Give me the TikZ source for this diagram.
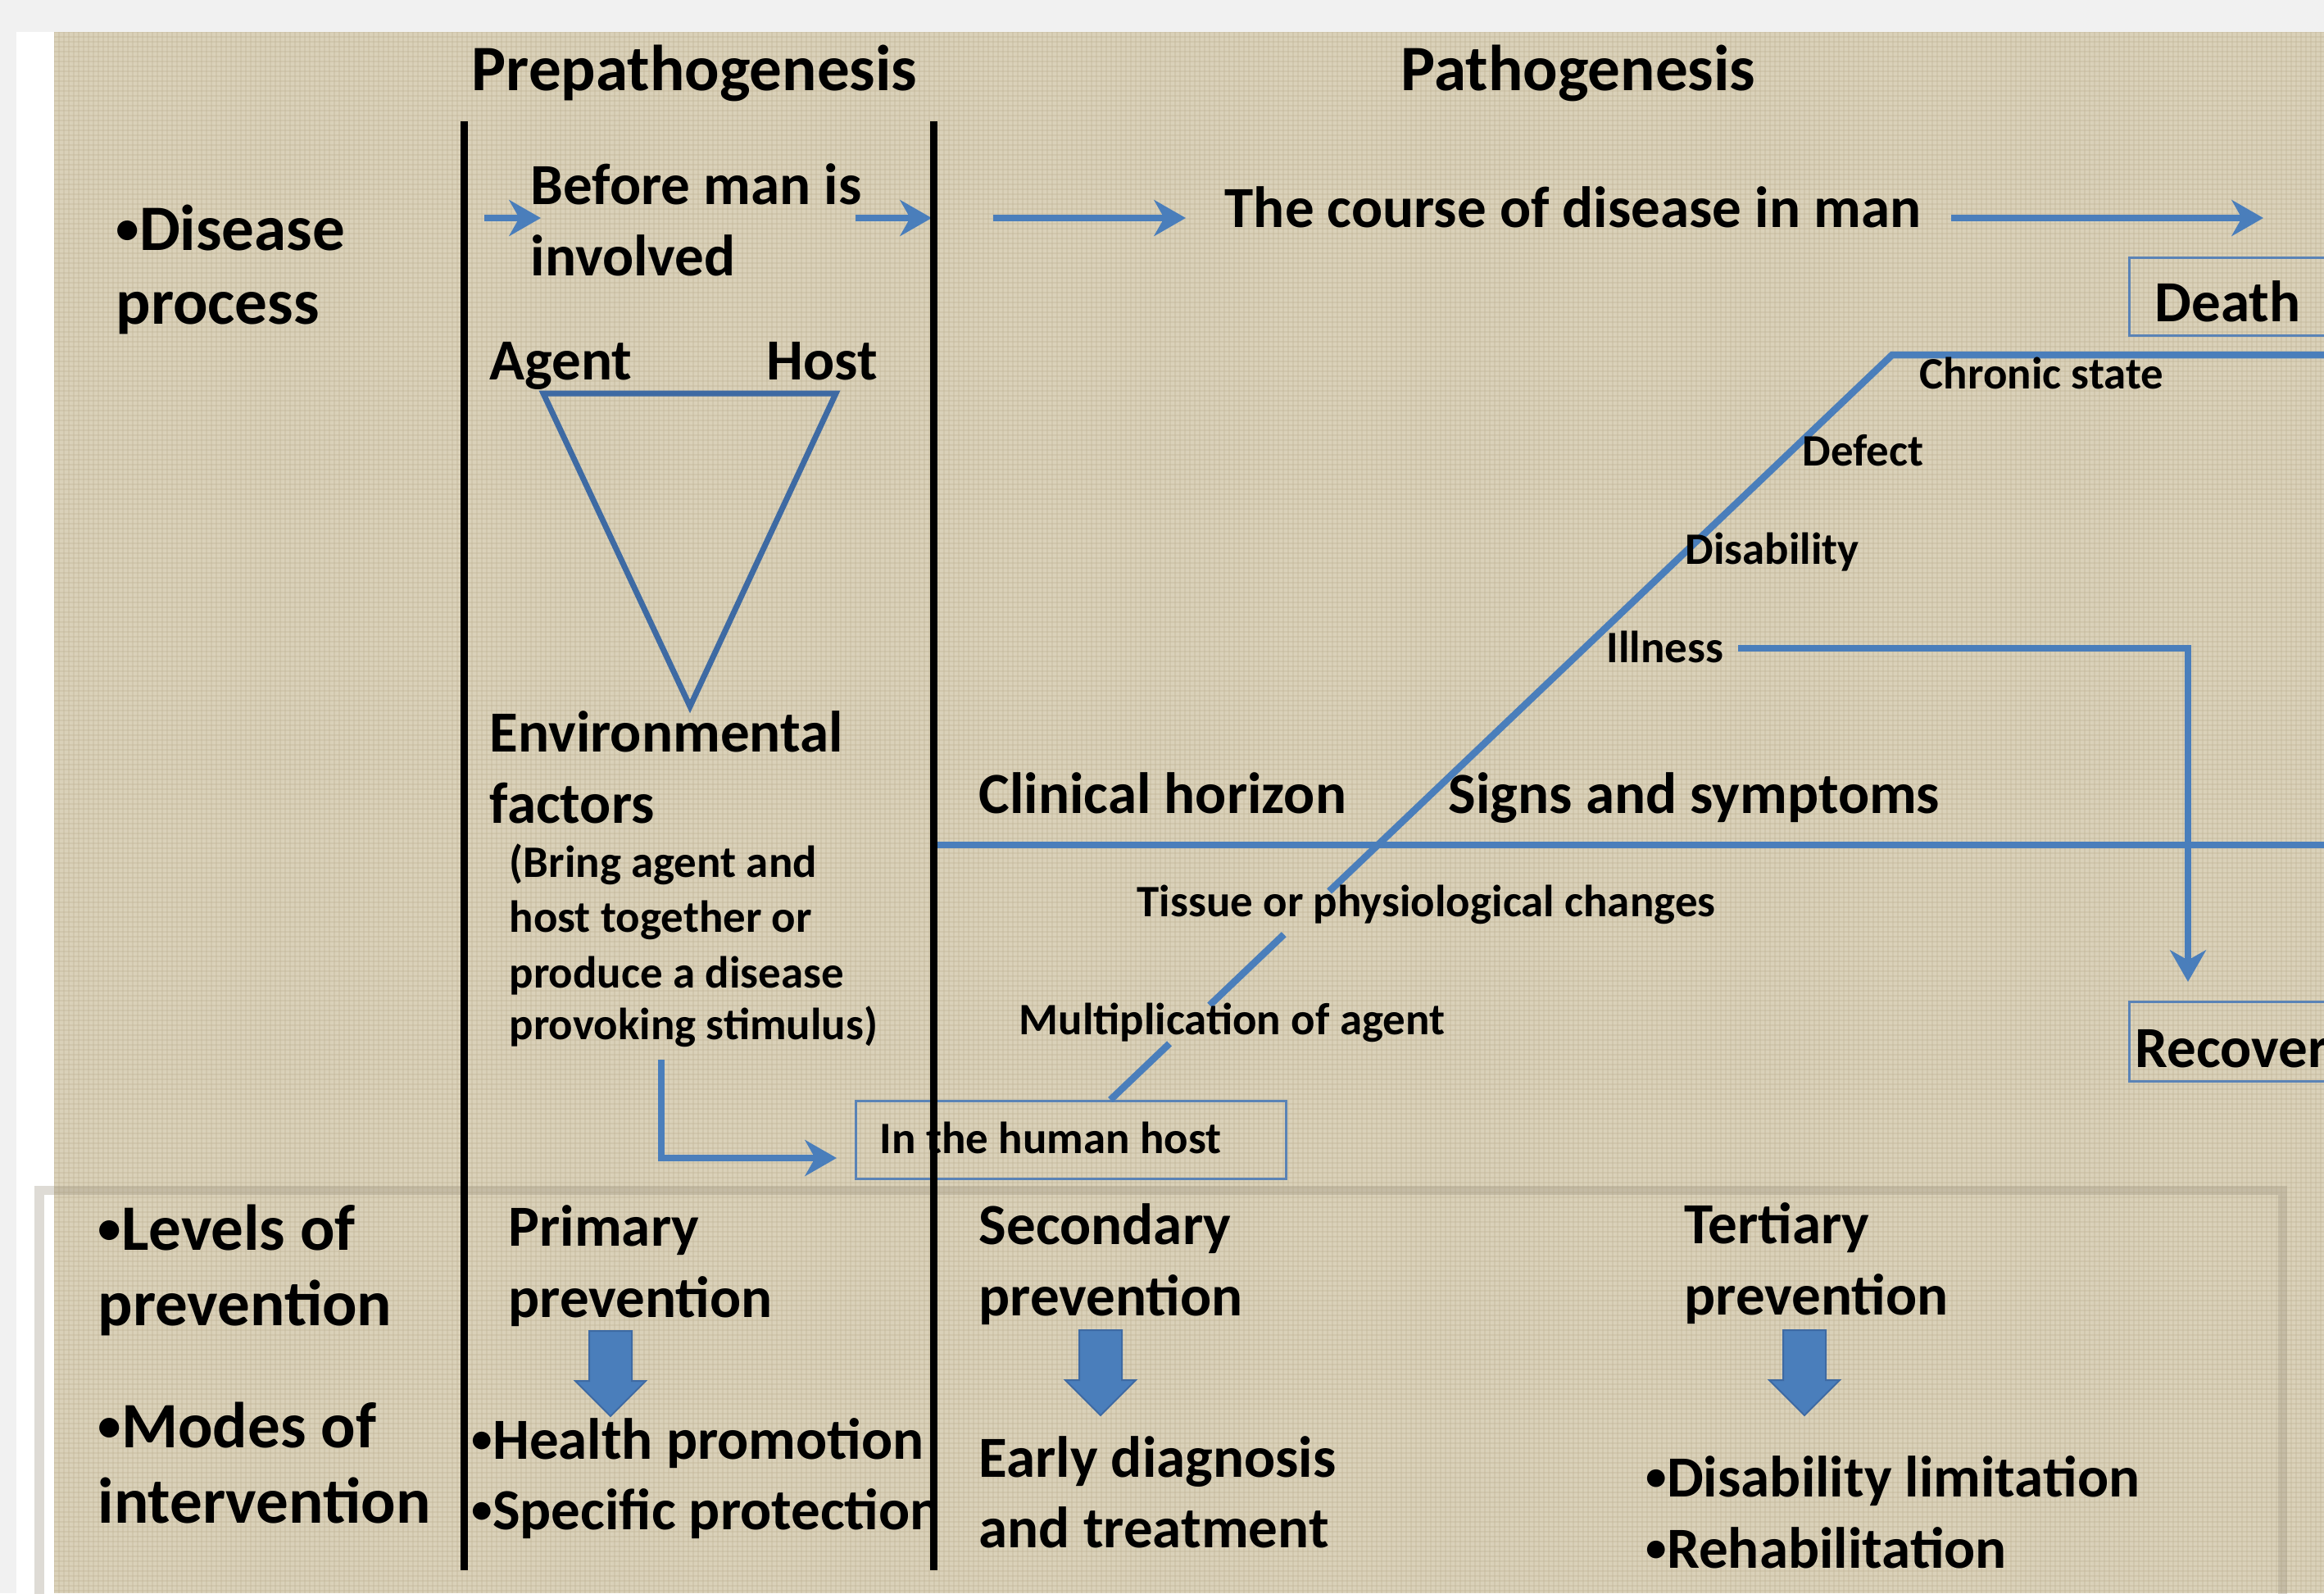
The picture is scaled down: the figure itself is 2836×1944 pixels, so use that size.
\documentclass[tikz,border=0pt]{standalone}
\usepackage{fontspec}
\setmainfont{Carlito}
\usetikzlibrary{arrows.meta,calc}

\definecolor{linen}{HTML}{DAD1B9}
\definecolor{linendark}{HTML}{BFB293}
\definecolor{slideblue}{HTML}{4A7EBB}
\definecolor{triblue}{HTML}{3E6AA3}
\definecolor{boxblue}{HTML}{5A83B6}
\definecolor{outergray}{HTML}{F1F1F1}
\definecolor{framegray}{HTML}{9A927E}

% a small, slightly raised list bullet
\newcommand\blt{\raisebox{0.1em}{\scalebox{0.72}{•}}}

\tikzset{
  big/.style={anchor=base west, inner sep=0pt, font=\fontsize{22.5}{27}\selectfont\bfseries},
  mid/.style={anchor=base west, inner sep=0pt, font=\fontsize{20.2}{24}\selectfont\bfseries},
  small/.style={anchor=base west, inner sep=0pt, font=\fontsize{15.6}{19}\selectfont\bfseries},
  divider/.style={line width=0.9mm, black},
  flow/.style={line width=0.85mm, slideblue},
  flowarrow/.style={flow, -{Stealth[length=11pt,width=12.5pt,inset=3.5pt]}},
  triangle/.style={line width=0.7mm, triblue, line join=miter},
  stagebox/.style={draw=boxblue, line width=0.28mm},
  blockarrow/.style={fill=slideblue, draw=triblue, line width=0.2mm},
  pics/downarrow/.style={code={
    \filldraw[blockarrow] (-26,0) -- (26,0) -- (26,61) -- (43,61) -- (0,104)
      -- (-43,61) -- (-26,61) -- cycle;}},
}

\begin{document}
\begin{tikzpicture}[x=0.01cm,y=-0.01cm]
\useasboundingbox (0,0) rectangle (2836,1944);
\clip (0,0) rectangle (2836,1944);

% slide background
\fill[outergray] (0,0) rectangle (2836,1944);
\fill[white] (20,39) rectangle (66,1944);
\fill[linen] (66,39) rectangle (2836,1944);
\begin{scope}
  \clip (66,39) rectangle (2836,1944);
  \foreach \x in {66,72,...,2836}
    \draw[linendark, line width=0.12mm, opacity=0.3] (\x,39) -- (\x,1944);
  \foreach \y in {39,45,...,1944}
    \draw[linendark, line width=0.12mm, opacity=0.3] (66,\y) -- (2836,\y);
\end{scope}

% frame round the prevention rows
\draw[framegray, line width=1.1mm, opacity=0.32] (48,1452) rectangle (2785,1990);

% headings
\node[big] (prepath) at (575,110) {Prepathogenesis};
\node[big] (pathog) at (1709,110) {Pathogenesis};

% row labels
\node[big] (dp1) at (141,305) {\blt Disease};
\node[big] (dp2) at (141,395) {process};
\node[big] (lp1) at (119,1525) {\blt Levels of};
\node[big] (lp2) at (119,1617) {prevention};
\node[big] (mi1) at (119,1766) {\blt Modes of};
\node[big] (mi2) at (119,1858) {intervention};

% prepathogenesis column
\node[mid] (before1) at (647,249) {Before man is};
\node[mid] (before2) at (647,336) {involved};
\node[mid] (agent) at (597,463) {Agent};
\node[mid] (host) at (935,463) {Host};
\node[mid] (env1) at (597,917) {Environmental};
\node[mid] (env2) at (597,1004) {factors};
\node[small] (br1) at (621,1070) {(Bring agent and};
\node[small] (br2) at (621,1137) {host together or};
\node[small] (br3) at (621,1205) {produce a disease};
\node[small] (br4) at (621,1268) {provoking stimulus)};

% epidemiological triangle
\coordinate (tA) at (663,480);
\coordinate (tH) at (1020,480);
\coordinate (tE) at (842,862);
\draw[triangle] (tA) -- (tH) -- (tE) -- cycle;

% top flow arrows
\coordinate (a1s) at (591,266);  \coordinate (a1e) at (660,266);
\coordinate (a2s) at (1044,266); \coordinate (a2e) at (1137,266);
\coordinate (a3s) at (1212,266); \coordinate (a3e) at (1447,266);
\coordinate (a4s) at (2381,266); \coordinate (a4e) at (2762,266);
\draw[flowarrow] (a1s) -- (a1e);
\draw[flowarrow] (a2s) -- (a2e);
\draw[flowarrow] (a3s) -- (a3e);
\draw[flowarrow] (a4s) -- (a4e);
\node[mid] (course) at (1494,277) {The course of disease in man};

% outcome boxes
\node[stagebox, anchor=north west, minimum width=3cm, minimum height=0.95cm, inner sep=0pt] (deathbox) at (2597,313) {};
\node[mid] (death) at (2629,392) {Death};
\node[stagebox, anchor=north west, minimum width=3cm, minimum height=0.97cm, inner sep=0pt] (recbox) at (2597,1221) {};
\node[mid] (recover) at (2605,1302) {Recover};

% clinical horizon
\coordinate (chL) at (1139,1031);
\coordinate (chR) at (2836,1031);
\draw[flow] (chL) -- (chR);
\node[mid] (chor) at (1194,992) {Clinical horizon};
\node[mid] (signs) at (1767,992) {Signs and symptoms};

% host box and the course of the disease
\node[stagebox, anchor=north west, minimum width=5.25cm, minimum height=0.95cm, inner sep=0pt] (hostbox) at (1043,1342) {};
\node[small] (inhost) at (1073,1407) {In the human host};
\coordinate (infect) at (1355,1342);
\coordinate (chronicc) at (2309,433);
\coordinate (edge) at (2836,433);
\draw[flow] (infect) -- ($(infect)!0.0755!(chronicc)$);
\draw[flow] ($(infect)!0.127!(chronicc)$) -- ($(infect)!0.222!(chronicc)$);
\draw[flow, line join=miter] ($(infect)!0.28!(chronicc)$) -- (chronicc) -- (edge);
\node[small] (tissue) at (1387,1118) {Tissue or physiological changes};
\node[small] (mult) at (1243,1262) {Multiplication of agent};
\node[small] (illness) at (1960,808) {Illness};
\node[small] (disab) at (2056,688) {Disability};
\node[small] (defect) at (2199,568) {Defect};
\node[small] (chronic) at (2342,474) {Chronic state};

% illness to recovery
\coordinate (illEnd) at (2121,791);
\coordinate (recTip) at (2670,1198);
\draw[flowarrow] (illEnd) -| (recTip);

% environment to host
\coordinate (envStart) at (807,1293);
\coordinate (envTip) at (1021,1413);
\draw[flowarrow] (envStart) |- (envTip);

% levels of prevention
\node[mid] (prim1) at (620,1520) {Primary};
\node[mid] (prim2) at (620,1607) {prevention};
\node[mid] (sec1) at (1194,1518) {Secondary};
\node[mid] (sec2) at (1194,1605) {prevention};
\node[mid] (ter1) at (2055,1517) {Tertiary};
\node[mid] (ter2) at (2055,1604) {prevention};

\coordinate (parr) at (745,1624);
\coordinate (sarr) at (1343,1623);
\coordinate (tarr) at (2202,1623);
\pic at (parr) {downarrow};
\pic at (sarr) {downarrow};
\pic at (tarr) {downarrow};

% modes of intervention
\begin{scope}
  \clip (500,1650) rectangle (1139,1944);
  \node[mid] (hp) at (575,1780) {\blt Health promotion};
  \node[mid] (sp) at (575,1866) {\blt Specific protection};
\end{scope}
\node[mid] (ed1) at (1194,1802) {Early diagnosis};
\node[mid] (ed2) at (1194,1888) {and treatment};
\node[mid] (dl) at (2008,1826) {\blt Disability limitation};
\node[mid] (rh) at (2008,1913) {\blt Rehabilitation};

% column dividers
\coordinate (d1t) at (566,148);  \coordinate (d1b) at (566,1916);
\coordinate (d2t) at (1139,148); \coordinate (d2b) at (1139,1916);
\draw[divider] (d1t) -- (d1b);
\draw[divider] (d2t) -- (d2b);
\end{tikzpicture}
\end{document}
